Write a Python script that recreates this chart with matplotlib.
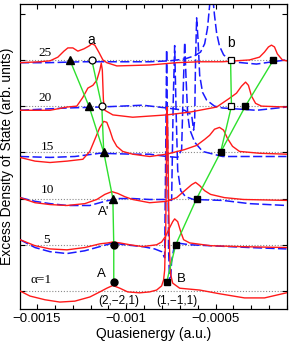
import numpy as np
import matplotlib.pyplot as plt
from matplotlib.ticker import FixedLocator, FixedFormatter, MultipleLocator

# energies in units of 1e-4 a.u.; DOS given relative to each curve's own baseline
labels = ["α=1", "5", "10", "15", "20", "25"]

red_x_1 = [-15.95, -15.39, -14.55, -13.72, -12.88, -12.04, -11.48, -11.09, -10.75, -10.36, -9.92, -9.25,
           -8.69, -8.30, -8.02, -7.91, -7.85, -7.79, -7.76, -7.74, -7.71, -7.68, -7.63, -7.57, -7.51,
           -7.40, -7.01, -5.89, -4.78, -3.38, -2.26, -1.03]
red_y_1 = [0, -0.11, -0.19, -0.24, -0.22, -0.13, -0.02, 0.06, 0.12, 0.06, -0.02, -0.04,
           -0.02, 0.02, 0.11, 0.24, 0.45, 1.32, 2.40, 3.48, 3.98, 3.48, 1.97, 0.78, 0.35,
           0.17, 0.06, 0.02, -0.06, -0.15, -0.15, -0.04]

red_x_5 = [-15.95, -15.11, -14.27, -13.32, -12.32, -11.48, -11.03, -10.75, -10.36, -9.80, -9.08, -8.30,
           -8.02, -7.79, -7.57, -7.40, -7.29, -7.12, -6.95, -6.79, -6.45, -5.28, -3.66, -1.03]
red_y_5 = [0.11, -0.02, -0.09, -0.11, -0.06, 0.02, 0.04, 0.06, 0.04, 0, -0.04, 0,
           0.06, 0.19, 0.37, 0.50, 0.56, 0.50, 0.28, 0.11, 0.04, -0.02, -0.04, -0.06]
blue_x_5 = [-15.95, -15.11, -14.27, -13.32, -12.32, -11.48, -10.75, -10.08, -9.08, -8.41, -8.02, -7.85,
            -7.79, -7.74, -7.68, -7.63, -7.57, -7.51, -7.46, -7.35, -7.18, -6.45, -5.33, -3.10, -1.03]
blue_y_5 = [0.11, -0.06, -0.15, -0.19, -0.13, -0.04, 0.04, 0, -0.04, -0.09, -0.15, -0.28,
            2.06, 4.22, 2.27, -0.11, -0.85, -0.70, -0.35, -0.11, 0.04, 0, -0.02, -0.06, -0.09]

red_x_10 = [-15.95, -15.11, -14.27, -13.32, -12.32, -11.65, -11.20, -10.81, -10.47, -10.08, -9.64, -8.69,
            -7.74, -7.18, -6.73, -6.34, -6.12, -5.89, -5.61, -5.28, -4.50, -3.44, -1.03]
red_y_10 = [0.02, -0.09, -0.13, -0.15, -0.11, -0.02, 0.09, 0.15, 0.11, 0.04, -0.02, -0.09,
            -0.06, 0.02, 0.17, 0.30, 0.35, 0.28, 0.17, 0.09, 0.02, -0.02, -0.04]
blue_x_10 = [-15.95, -15.11, -14.27, -13.32, -12.04, -11.20, -10.53, -9.64, -8.69, -7.85, -7.46, -7.37,
             -7.29, -7.21, -7.12, -6.95, -6.68, -6.23, -4.61, -3.10, -1.03]
blue_y_10 = [0.02, -0.06, -0.11, -0.15, -0.15, -0.06, 0, 0, -0.02, -0.02, -0.04, 2.12,
             3.31, 1.90, 0.61, 0.17, 0.04, -0.02, -0.04, -0.11, -0.15]

red_x_15 = [-15.95, -15.11, -14.27, -13.32, -12.43, -12.04, -11.76, -11.48, -11.26, -11.09, -10.92, -10.75,
            -10.53, -10.20, -9.64, -8.69, -7.74, -6.73, -6.06, -5.61, -5.33, -5.06, -4.78, -4.55, -4.33,
            -4.05, -3.66, -2.54, -1.03]
red_y_15 = [-0.11, -0.19, -0.22, -0.19, -0.15, 0.02, 0.28, 0.54, 0.67, 0.65, 0.48, 0.28,
            0.13, 0.02, -0.04, -0.09, -0.04, 0.06, 0.15, 0.28, 0.37, 0.50, 0.54, 0.48, 0.30,
            0.13, 0.02, -0.02, -0.04]
blue_x_15 = [-15.95, -14.27, -12.88, -11.48, -9.64, -8.69, -7.74, -7.12, -6.90, -6.81, -6.73, -6.65,
             -6.56, -6.45, -6.17, -5.73, -4.61, -1.03]
blue_y_15 = [-0.09, -0.11, -0.09, -0.02, -0.04, -0.04, -0.09, -0.11, 0.06, 1.36, 2.38, 1.58,
             0.82, 0.50, 0.22, 0.02, -0.09, -0.09]

red_x_20 = [-15.95, -14.27, -13.32, -12.77, -12.43, -12.15, -11.87, -11.65, -11.48, -11.40, -11.34, -11.28,
            -11.20, -10.75, -9.64, -7.74, -6.45, -4.94, -4.22, -3.83, -3.55, -3.32, -3.16, -2.99, -2.76,
            -2.43, -1.03]
red_y_20 = [-0.09, -0.09, -0.02, 0, 0.19, 0.39, 0.45, 0.56, 0.78, 0.93, 0.78, 0.13,
            -0.09, -0.19, -0.24, -0.19, -0.13, -0.02, 0.17, 0.28, 0.43, 0.52, 0.45, 0.22, 0.06,
            0, -0.02]
blue_x_20 = [-15.95, -13.32, -11.48, -9.08, -7.74, -6.73, -6.34, -6.23, -6.17, -6.12, -6.06, -5.98,
             -5.89, -5.73, -5.50, -5.06, -4.61, -2.71, -1.03]
blue_y_20 = [-0.09, -0.04, -0.02, 0.02, -0.04, -0.09, -0.19, -0.52, -0.30, 1.00, 1.91, 1.43,
             0.67, 0.30, 0.13, 0, -0.04, -0.09, -0.02]

red_x_25 = [-15.95, -14.83, -14.27, -13.83, -13.49, -13.27, -12.99, -12.71, -12.37, -12.09, -11.93, -11.76,
            -11.54, -11.31, -11.09, -10.53, -8.69, -7.18, -5.89, -4.61, -3.10, -2.54, -2.26, -2.04, -1.87,
            -1.70, -1.54, -1.26, -1.03]
red_y_25 = [-0.06, -0.04, -0.02, 0.06, 0.19, 0.26, 0.26, 0.19, 0.24, 0.30, 0.35, 0.32,
            0.17, 0, -0.06, -0.13, -0.11, -0.06, -0.04, -0.04, 0, 0.06, 0.17, 0.28, 0.32,
            0.28, 0.13, 0, -0.02]
blue_x_25 = [-15.95, -14.39, -12.49, -10.64, -8.69, -7.57, -6.73, -6.17, -5.84, -5.61, -5.45, -5.33,
             -5.25, -5.17, -5.06, -4.94, -4.78, -4.55, -4.11, -2.71, -1.81, -1.03]
blue_y_25 = [-0.06, -0.06, -0.04, -0.04, -0.04, -0.02, 0.02, 0.09, 0.17, 0.35, 0.69, 1.19,
             1.73, 1.41, 0.97, 0.58, 0.30, 0.11, -0.04, -0.09, -0.04, 0]

# peak positions followed across alpha (index 0..5 -> alpha 1..25)
peak_A_x = [-10.70, -10.70, -10.75, -11.26, -12.09, -13.16]
peak_A_y = [0.19, 0, 0, 0, 0, 0]
peak_a_x = [-11.37, -11.93]   # alpha 20, 25
peak_B_x = [-7.74, -7.23, -6.06, -4.72, -3.33, -1.76]
peak_B_y = [0.19, 0, 0, 0, 0, 0]
peak_b_x = [-4.11, -4.16]     # alpha 20, 25

xticks = [-0.0015, -0.001, -0.0005]
xtick_labels = ["\u22120.0015", "\u22120.001", "\u22120.0005"]

red_curves = [(red_x_1, red_y_1), (red_x_5, red_y_5), (red_x_10, red_y_10),
              (red_x_15, red_y_15), (red_x_20, red_y_20), (red_x_25, red_y_25)]
blue_curves = [None, (blue_x_5, blue_y_5), (blue_x_10, blue_y_10),
               (blue_x_15, blue_y_15), (blue_x_20, blue_y_20), (blue_x_25, blue_y_25)]

plt.rcParams['font.family'] = ['Liberation Sans', 'DejaVu Sans']

fig = plt.figure(figsize=(2.89, 3.44), dpi=100)
ax = fig.add_axes([20 / 289, 1 - 309 / 344, 267 / 289, 305 / 344])
scale = 1e-4

for k, (red, blue) in enumerate(zip(red_curves, blue_curves)):
    ax.axhline(k, color="#8a8a8a", lw=0.8, ls=(0, (1, 1.6)), zorder=1)
    if blue is not None:
        ax.plot(np.array(blue[0]) * scale, np.array(blue[1]) + k, color="#1a1aff",
                lw=1.1, dashes=(6, 2.2), zorder=2)
    ax.plot(np.array(red[0]) * scale, np.array(red[1]) + k, color="#ff1a1a", lw=1.0, zorder=3)

levels = np.arange(len(labels))
green = "#2ee02e"
ax_A = np.array(peak_A_x) * scale
ay_A = np.array(peak_A_y) + levels
ax_B = np.array(peak_B_x) * scale
ay_B = np.array(peak_B_y) + levels
ax.plot(ax_A, ay_A, color=green, lw=1.0, zorder=4)
ax.plot(ax_B, ay_B, color=green, lw=1.0, zorder=4)
ax.plot(np.r_[ax_A[3], np.array(peak_a_x) * scale], [3, 4, 5], color=green, lw=1.0, zorder=4)
ax.plot(np.r_[ax_B[3], np.array(peak_b_x) * scale], [3, 4, 5], color=green, lw=1.0, zorder=4)

ax.plot(ax_A[:2], ay_A[:2], "o", color="k", ms=5, zorder=5)
ax.plot(ax_A[2:], ay_A[2:], "^", color="k", ms=6, zorder=5)
ax.plot(ax_B, ay_B, "s", color="k", ms=5, zorder=5)
ax.plot(np.array(peak_a_x) * scale, [4, 5], "o", mfc="white", mec="k", mew=0.9, ms=5, zorder=5)
ax.plot(np.array(peak_b_x) * scale, [4, 5], "s", mfc="white", mec="k", mew=0.9, ms=5, zorder=5)

# curve labels
serif = ['Liberation Serif', 'DejaVu Serif']
label_x = [-14.78, -14.44, -14.39, -14.44, -14.55, -14.55]
label_dy = [0.24, 0.10, 0.19, 0.12, 0.18, 0.15]
for k, (txt, lx, dy) in enumerate(zip(labels, label_x, label_dy)):
    ax.text(lx * scale, k + dy, txt, family=serif, fontsize=9.5, ha="center", va="center")

ax.text(-11.98e-4, 5.43, "a", fontsize=10, ha="center", va="center")
ax.text(-4.16e-4, 5.36, "b", fontsize=10, ha="center", va="center")
ax.text(-11.25e-4, 1.70, "A'", fontsize=9.5, ha="center", va="center")
ax.text(-11.37e-4, 0.37, "A", fontsize=9.5, ha="center", va="center")
ax.text(-6.92e-4, 0.27, "B", fontsize=9.5, ha="center", va="center")
ax.text(-10.42e-4, -0.21, "(2,\u22122,1)", fontsize=8.5, ha="center", va="center")
ax.text(-7.18e-4, -0.21, "(1,\u22121,1)", fontsize=8.5, ha="center", va="center")

ax.set_xlim(-15.95e-4, -1.0e-4)
ax.set_ylim(-0.39, 6.21)
ax.xaxis.set_major_locator(FixedLocator(xticks))
ax.xaxis.set_major_formatter(FixedFormatter(xtick_labels))
ax.xaxis.set_minor_locator(MultipleLocator(1e-4))
ax.set_yticks(levels.tolist() + [6])
ax.set_yticklabels([])
ax.tick_params(which="both", direction="in", top=True, right=True, labelsize=9.5, pad=3)
ax.tick_params(which="major", length=3.5, width=0.8)
ax.tick_params(which="minor", length=3, width=0.8)
for sp in ax.spines.values():
    sp.set_linewidth(0.9)

ax.set_xlabel("Quasienergy (a.u.)", fontsize=10, labelpad=1)
ax.set_ylabel("Excess Density of State (arb. units)", fontsize=10)
ax.yaxis.set_label_coords(-0.024, 0.5)

fig.savefig("out.png", dpi=100)
